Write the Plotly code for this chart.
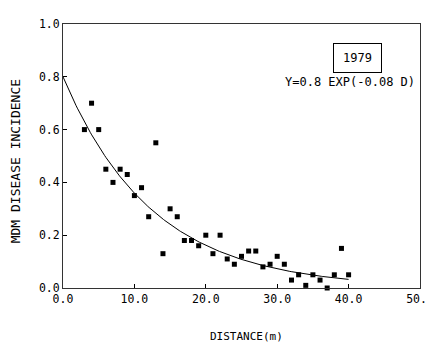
import numpy as np
import plotly.graph_objects as go

distance = [3, 4, 5, 6, 7, 8, 9, 10, 11, 12, 13, 14, 15, 16, 17, 18, 19, 20,
            21, 22, 23, 24, 25, 26, 27, 28, 29, 30, 31, 32, 33, 34, 35, 36,
            37, 38, 39, 40]
incidence = [0.60, 0.70, 0.60, 0.45, 0.40, 0.45, 0.43, 0.35, 0.38, 0.27, 0.55,
             0.13, 0.30, 0.27, 0.18, 0.18, 0.16, 0.20, 0.13, 0.20, 0.11, 0.09,
             0.12, 0.14, 0.14, 0.08, 0.09, 0.12, 0.09, 0.03, 0.05, 0.01, 0.05,
             0.03, 0.00, 0.05, 0.15, 0.05]

fit_a = 0.8
fit_b = 0.08
fit_x = np.linspace(0, 40, 200)
fit_y = fit_a * np.exp(-fit_b * fit_x)

x_ticks = [0, 10, 20, 30, 40, 50]
x_tick_labels = ["0.0", "10.0", "20.0", "30.0", "40.0", "50.0"]
y_ticks = [0, 0.2, 0.4, 0.6, 0.8, 1.0]
y_tick_labels = ["0.0", "0.2", "0.4", "0.6", "0.8", "1.0"]

FONT = "DejaVu Sans Mono"

fig = go.Figure()
fig.add_trace(go.Scatter(x=fit_x, y=fit_y, mode="lines",
                         line=dict(color="black", width=1), hoverinfo="skip"))
fig.add_trace(go.Scatter(x=distance, y=incidence, mode="markers",
                         marker=dict(symbol="square", size=5, color="black"),
                         cliponaxis=False))

fig.update_layout(
    width=434, height=336,
    margin=dict(l=55, r=22, t=16, b=56),
    paper_bgcolor="white", plot_bgcolor="white",
    showlegend=False,
    font=dict(family=FONT, size=12, color="black"),
    xaxis=dict(range=[0, 50], tickvals=x_ticks, ticktext=x_tick_labels,
               ticks="inside", ticklen=4, tickcolor="black",
               automargin=False, ticklabeloverflow="allow",
               showline=True, linecolor="#333", linewidth=1, mirror=True,
               showgrid=False, zeroline=False,
               tickfont=dict(family=FONT, size=11.5)),
    yaxis=dict(range=[0, 1.0], tickvals=y_ticks, ticktext=y_tick_labels,
               ticks="inside", ticklen=4, tickcolor="black",
               automargin=False,
               showline=True, linecolor="#333", linewidth=1, mirror=True,
               showgrid=False, zeroline=False,
               tickfont=dict(family=FONT, size=11.5)),
    annotations=[
        dict(text="DISTANCE(m)", xref="paper", yref="paper", x=0.5, y=0,
             xshift=5, yshift=-48, showarrow=False, xanchor="center",
             yanchor="middle", font=dict(family=FONT, size=11)),
        dict(text="MDM DISEASE INCIDENCE", xref="paper", yref="paper",
             x=0, y=0.48, xshift=-48, textangle=-90, showarrow=False,
             xanchor="center", yanchor="middle",
             font=dict(family=FONT, size=13)),
        dict(text="1979", xref="x", yref="y", x=41.3, y=0.871,
             showarrow=False, xanchor="center", yanchor="middle",
             width=47, height=28, borderpad=0,
             font=dict(family=FONT, size=12),
             bordercolor="black", borderwidth=1,
             bgcolor="white"),
        dict(text="Y=0.8 EXP(-0.08 D)", xref="paper", yref="y", x=1.0,
             xshift=-3, y=0.78, showarrow=False, xanchor="right",
             yanchor="middle", font=dict(family=FONT, size=12)),
    ],
)

fig.write_html("out.html")
